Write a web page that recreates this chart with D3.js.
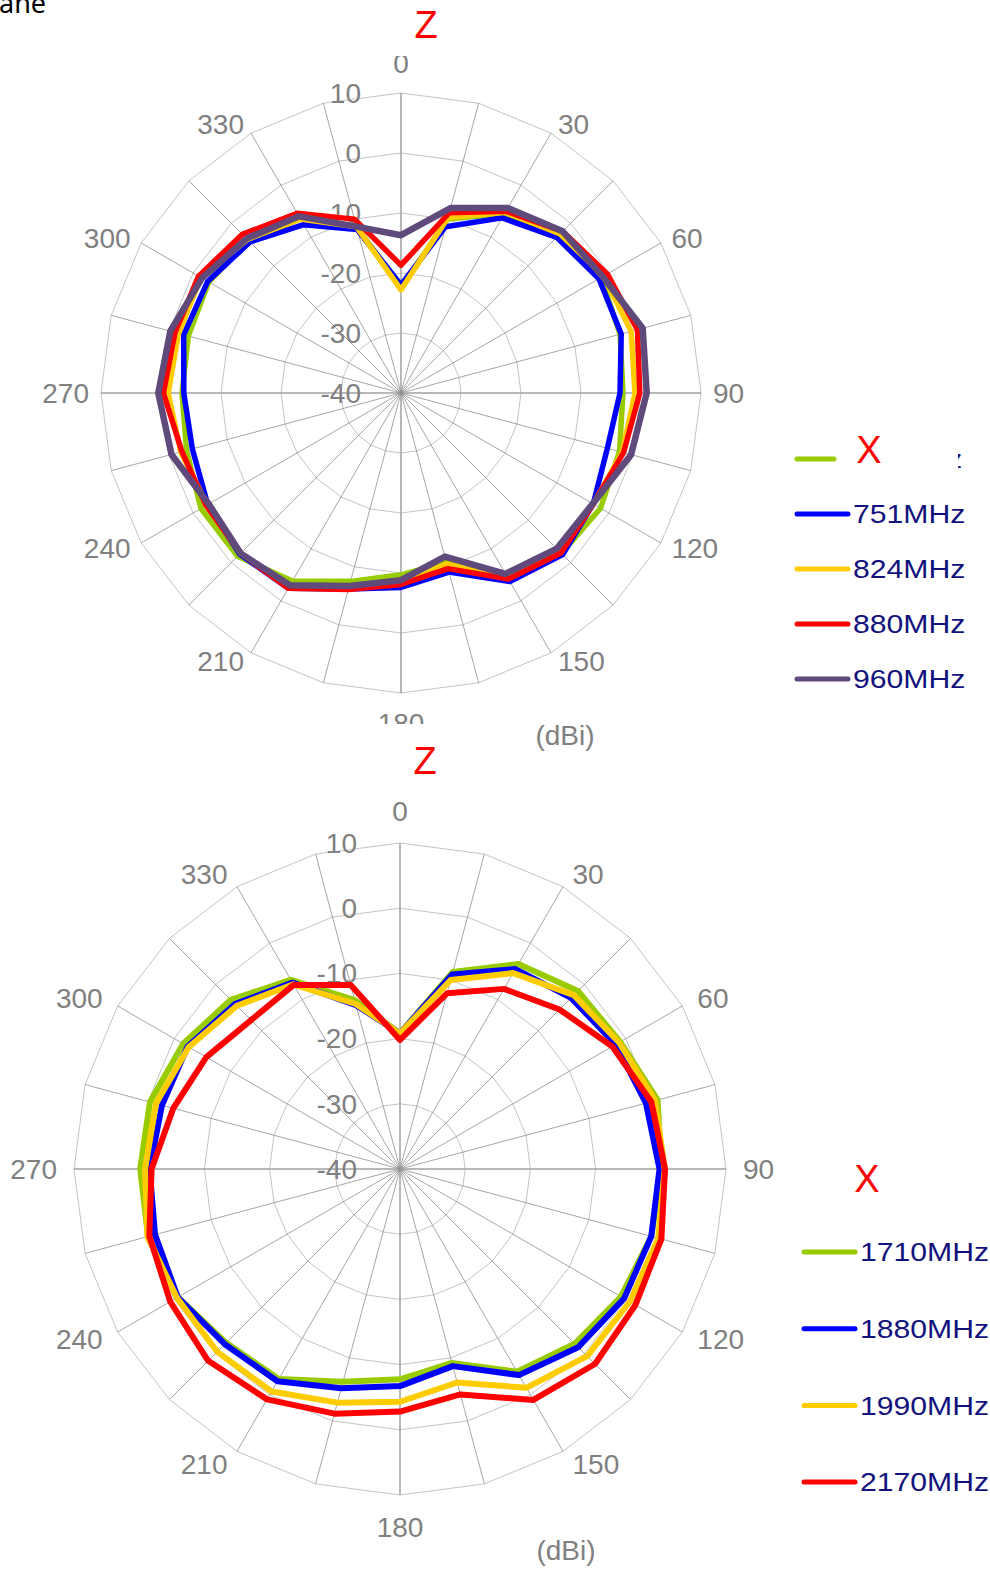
<!DOCTYPE html>
<html>
<head>
<meta charset="utf-8">
<script src="https://cdn.jsdelivr.net/npm/d3@7"></script>
<style>
  body { margin: 0; background: #fff; }
  svg { display: block; font-family: "Liberation Sans", Arial, sans-serif; }
</style>
</head>
<body>
<div id="chart"></div>
<script>
// categories: direction in degrees, one spoke every 15
const angles = [0, 15, 30, 45, 60, 75, 90, 105, 120, 135, 150, 165,
                180, 195, 210, 225, 240, 255, 270, 285, 300, 315, 330, 345];
const angleLabels = ["0", "30", "60", "90", "120", "150", "180", "210", "240", "270", "300", "330"];
const gainTicks = [-40, -30, -20, -10, 0, 10];

// low band (dBi); the first legend label is hidden under the red X
const lowNames = ["", "751MHz", "824MHz", "880MHz", "960MHz"];
const low698 = [-22.5, -10, -5.5, -2.6, -1.5, -2.2, -3, -2.3, -1.6, -2.2, -4.6, -10.8,
                -9.7, -7.5, -3.8, -1.5, -1.5, -3, -3.5, -3.3, -3, -4, -6.5, -11.3];
const low751 = [-22, -11.3, -6.3, -3.3, -1.9, -2, -3.5, -4.4, -3, -1.9, -3.7, -9.1,
                -7.6, -6.2, -2.4, -2, -2.8, -4, -3.8, -2.5, -2.8, -4.4, -7.6, -11.8];
const low824 = [-22.8, -9.7, -5.2, -2.5, -1, -0.3, -1, -1.8, -3, -2.4, -4.4, -10.5,
                -8.5, -6.4, -2.6, -2.2, -2.7, -2, -1.2, -1.6, -1.5, -3.8, -6.5, -11.3];
const low880 = [-18.7, -8.9, -5, -1.9, -0.3, 0.8, -0.2, -1.6, -3, -2.3, -4.2, -9.7,
                -8.1, -6.1, -2.4, -2.2, -2.5, -2.2, -0.4, -1, -1.05, -2.6, -5.4, -10];
const low960 = [-13.7, -8.1, -4.4, -1.9, -1.2, 1.7, 0.95, -0.3, -3.1, -3.3, -5.2, -11.75,
                -8.8, -6.7, -3, -2.2, -3, -0.4, 0.45, -0.2, -1.7, -3.6, -6, -11.3];

// high band (dBi)
const highNames = ["1710MHz", "1880MHz", "1990MHz", "2170MHz"];
const high1710 = [-19.2, -8.7, -3.7, -1.4, -1, 0.9, 0.1, -0.1, -0.85, -2.1, -4.1, -9.2,
                  -7.75, -6.2, -2.8, -2.3, -0.65, 0, -0.15, -0.3, -1.6, -3.3, -6.5, -13.2];
const high1880 = [-19.2, -9.1, -4.6, -2.9, -1.8, -0.95, -0.2, -0.1, -0.3, -1.35, -3.5, -8.7,
                  -6.7, -5.2, -2.4, -2, -0.65, -1.1, -1.6, -2.2, -2.4, -4.2, -7, -14];
const high1990 = [-19.2, -10, -5.3, -2.3, -1.2, 0.5, 0.6, 1, 0.7, 0.6, -1.25, -6.1,
                  -4.3, -2.9, -0.6, -0.35, -0.5, 0.1, -0.9, -1.25, -2.6, -4.6, -7.3, -13.8];
const high2170 = [-20.2, -12.1, -8.1, -5.4, -2.4, -0.1, 0.65, 1.5, 1.7, 2.3, 0.9, -4.2,
                  -2.8, -1.15, 0.8, 1.6, 0.7, -0.2, -1.9, -4, -5.7, -7.7, -7.4, -10.8];

const GREEN = "#99cc00", BLUE = "#0000ff", YELLOW = "#ffcc00", RED = "#ff0000", PURPLE = "#604a7b";
const GREY = "#808080", NAVY = "#12127d";

const svg = d3.select("#chart").append("svg")
    .attr("width", 990)
    .attr("height", 1569);

// cut-off page title at the very top
svg.append("text")
    .attr("x", -1).attr("y", 13)
    .style("font-family", "'Noto Sans', sans-serif")
    .style("font-size", "27px")
    .attr("fill", "#000")
    .text("ane");

const angle = d3.scaleLinear().domain([0, 360]).range([0, 2 * Math.PI]);

function drawPolar(cfg) {
    const r = d3.scaleLinear().domain([-40, 10]).range([0, cfg.R]);
    const g = svg.append("g").attr("transform", `translate(${cfg.cx},${cfg.cy})`);

    const ring = d3.lineRadial()
        .angle(d => angle(d))
        .curve(d3.curveLinearClosed);

    // rings
    g.selectAll(".ring")
        .data(gainTicks.slice(1))
        .enter().append("path")
        .attr("class", "ring")
        .attr("d", v => ring.radius(r(v))(angles))
        .attr("fill", "none")
        .attr("stroke", "#c4c4c4")
        .attr("stroke-width", 1);

    // spokes
    g.selectAll(".spoke")
        .data(angles)
        .enter().append("line")
        .attr("x1", 0).attr("y1", 0)
        .attr("x2", d => cfg.R * Math.sin(angle(d)))
        .attr("y2", d => -cfg.R * Math.cos(angle(d)))
        .attr("stroke", d => d % 90 === 0 ? "#a0a0a0" : "#8f8f8f")
        .attr("stroke-width", d => d % 90 === 0 ? 1.5 : 0.8);

    // gain tick labels
    g.selectAll(".tick")
        .data(gainTicks)
        .enter().append("text")
        .attr("x", cfg.tickDx)
        .attr("y", v => -r(v))
        .attr("dy", "0.35em")
        .attr("text-anchor", "end")
        .attr("fill", GREY)
        .style("font-size", "28px")
        .text(v => v);

    // angle labels
    const lab = g.append("g");
    if (cfg.clip) {
        svg.append("clipPath").attr("id", cfg.clip.id)
            .append("rect")
            .attr("x", -cfg.cx).attr("y", cfg.clip.y0 - cfg.cy)
            .attr("width", 990).attr("height", cfg.clip.y1 - cfg.clip.y0);
        lab.attr("clip-path", `url(#${cfg.clip.id})`);
    }
    lab.selectAll("text")
        .data(angleLabels)
        .enter().append("text")
        .each(function(t) {
            const a = angle(+t), s = Math.sin(a), c = Math.cos(a);
            const el = d3.select(this);
            if (Math.abs(s) < 0.01) {
                const p = cfg.R + cfg.vertGap;
                el.attr("x", 0)
                  .attr("y", c > 0 ? -p : p)
                  .attr("dy", c > 0 ? "0" : "0.72em")
                  .attr("text-anchor", "middle");
            } else {
                const p = cfg.R + cfg.sideGap;
                el.attr("x", p * s + (s > 0 ? 2 : -2))
                  .attr("y", -p * c)
                  .attr("dy", "0.35em")
                  .attr("text-anchor", s > 0 ? "start" : "end");
            }
        })
        .attr("fill", GREY)
        .style("font-size", "28px")
        .text(t => t);

    // series
    const line = d3.lineRadial()
        .angle((d, i) => angle(angles[i]))
        .radius(d => r(d))
        .curve(d3.curveLinearClosed);

    g.selectAll(".series")
        .data(cfg.series)
        .enter().append("path")
        .attr("class", "series")
        .attr("d", d => line(d.values))
        .attr("fill", "none")
        .attr("stroke", d => d.color)
        .attr("stroke-width", d => d.width)
        .attr("stroke-linejoin", "round");

    // legend
    const lg = svg.append("g");
    cfg.series.forEach((d, i) => {
        const y = cfg.legend.y0 + i * cfg.legend.step;
        lg.append("line")
            .attr("x1", cfg.legend.x1)
            .attr("x2", d.name ? cfg.legend.x2 : cfg.legend.x2 - 14)
            .attr("y1", y).attr("y2", y)
            .attr("stroke", d.color)
            .attr("stroke-width", 5)
            .attr("stroke-linecap", "round");
        if (!d.name) return;
        const t = lg.append("text")
            .attr("x", cfg.legend.tx).attr("y", y)
            .attr("dy", "0.36em")
            .attr("fill", NAVY)
            .style("font-size", "26px")
            .text(d.name);
        const w = t.node().getComputedTextLength();
        t.attr("textLength", w * 1.16).attr("lengthAdjust", "spacingAndGlyphs");
    });

    // tail of the hidden legend label peeking out from behind the X box
    if (cfg.peek) {
        svg.append("clipPath").attr("id", "peekClip")
            .append("rect")
            .attr("x", cfg.peek[0]).attr("y", cfg.peek[1] - 20)
            .attr("width", 8).attr("height", 40);
        svg.append("text")
            .attr("clip-path", "url(#peekClip)")
            .attr("x", cfg.peek[0] + 4).attr("y", cfg.peek[1])
            .attr("dy", "0.36em").attr("text-anchor", "end")
            .attr("fill", NAVY)
            .style("font-size", "26px")
            .text("z");
    }

    // red axis markers
    svg.append("text")
        .attr("x", cfg.z[0]).attr("y", cfg.z[1])
        .attr("dy", "0.36em").attr("text-anchor", "middle")
        .attr("fill", RED).style("font-size", "38px")
        .text("Z");
    svg.append("text")
        .attr("x", cfg.xMark[0]).attr("y", cfg.xMark[1])
        .attr("dy", "0.36em").attr("text-anchor", "middle")
        .attr("fill", RED).style("font-size", "38px")
        .text("X");

    svg.append("text")
        .attr("x", cfg.unit[0]).attr("y", cfg.unit[1])
        .attr("dy", "0.36em").attr("text-anchor", "middle")
        .attr("fill", GREY).style("font-size", "28px")
        .text("(dBi)");
}

drawPolar({
    cx: 401, cy: 393, R: 300,
    sideGap: 10, vertGap: 20, tickDx: -40,
    clip: {id: "clipLow", y0: 56, y1: 724},
    series: [
        {name: lowNames[0], values: low698, color: GREEN, width: 5.5},
        {name: lowNames[1], values: low751, color: BLUE, width: 5.5},
        {name: lowNames[2], values: low824, color: YELLOW, width: 5.5},
        {name: lowNames[3], values: low880, color: RED, width: 5.5},
        {name: lowNames[4], values: low960, color: PURPLE, width: 6.5}
    ],
    legend: {y0: 459, step: 55, x1: 797, x2: 848, tx: 853},
    peek: [958, 459],
    z: [426, 24],
    xMark: [869, 449],
    unit: [565, 735]
});

drawPolar({
    cx: 400, cy: 1169, R: 326,
    sideGap: 15, vertGap: 22, tickDx: -43,
    series: [
        {name: highNames[0], values: high1710, color: GREEN, width: 6},
        {name: highNames[1], values: high1880, color: BLUE, width: 6},
        {name: highNames[2], values: high1990, color: YELLOW, width: 6},
        {name: highNames[3], values: high2170, color: RED, width: 6}
    ],
    legend: {y0: 1252, step: 76.7, x1: 804, x2: 855, tx: 860},
    z: [425, 760],
    xMark: [867, 1178],
    unit: [566, 1550]
});
</script>
</body>
</html>
